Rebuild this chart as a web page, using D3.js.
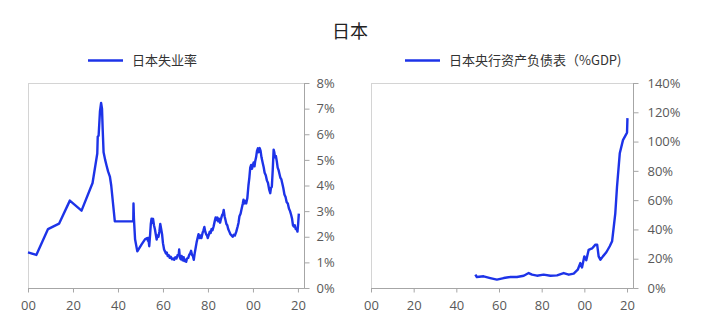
<!DOCTYPE html>
<html><head><meta charset="utf-8">
<script src="https://cdn.jsdelivr.net/npm/d3@7"></script>
<style>
body{margin:0;background:#fff;}
svg{display:block;}
</style></head>
<body>
<svg id="c" width="720" height="332"></svg>
<script>
const title = "日本";
const leftLabel = "日本失业率";
const rightLabel = "日本央行资产负债表（%GDP)";

const xTicks = [1900, 1920, 1940, 1960, 1980, 2000, 2020];
const leftYTicks = [0, 1, 2, 3, 4, 5, 6, 7, 8];
const rightYTicks = [0, 20, 40, 60, 80, 100, 120, 140];

const unempYears = [1900,1903.7,1908.9,1913.8,1918.6,1923.8,1928.7,1930.8,1931.0,1931.4,1932.0,1932.5,1932.9,1933.2,1933.6,1934.3,1935.0,1935.6,1936.4,1937.0,1938.6,1946.8,1946.9,1947.1,1947.6,1948.6,1950.5,1952.0,
1953.0,1953.3,1953.5,1953.9,1954.3,1954.6,1954.9,1955.3,1955.6,1956.0,1956.4,1956.8,1957.2,1957.6,1958.0,1958.4,1958.8,1959.2,1959.6,1960.0,1960.5,1960.9,1961.3,1961.7,1962.1,1962.6,1963.0,1963.5,1964.0,1964.6,1965.0,1965.5,1966.0,1966.5,1967.0,1967.2,1967.5,1967.9,1968.3,1968.7,1969.2,1969.5,1969.9,1970.3,1970.7,1971.2,1971.7,1972.1,1972.5,1972.9,1973.3,1973.7,1974.1,1974.6,1975.0,1975.4,1975.8,1976.3,1976.7,1977.1,1977.6,1978.0,1978.4,1978.8,1979.2,1979.6,1979.9,1980.3,1980.8,1981.2,1981.6,1982.0,1982.5,1983.0,1983.4,1983.8,1984.2,1984.6,1985.0,1985.4,1985.8,1986.3,1986.7,1987.0,1987.4,1987.8,1988.2,1988.6,1989.0,1989.5,1990.0,1990.5,1991.0,1991.5,1992.0,1992.6,1993.2,1993.6,1994.0,1994.5,1995.0,1995.5,1995.8,1996.2,1996.6,1997.0,1997.5,1998.0,1998.4,1998.8,1999.2,1999.6,2000.0,2000.3,2000.7,2001.0,2001.4,2001.8,2002.2,2002.6,2003.0,2003.4,2003.8,2004.3,2004.8,2005.2,2005.7,2006.2,2006.7,2007.2,2007.7,2008.0,2008.4,2008.8,2009.2,2009.5,2009.8,2010.2,2010.6,2011.0,2011.4,2011.8,2012.2,2012.6,2013.0,2013.5,2014.0,2014.5,2015.0,2015.5,2016.0,2016.5,2017.0,2017.4,2017.8,2018.2,2018.6,2019.0,2019.4,2019.8,2020.1,2020.4];
const unempValues = [1.39,1.29,2.30,2.51,3.41,3.02,4.10,5.25,5.90,5.95,6.9,7.22,7.0,6.2,5.3,5.0,4.75,4.55,4.35,4.0,2.60,2.60,3.30,2.7,1.9,1.43,1.7,1.9,
1.95,1.85,1.95,1.63,2.1,2.5,2.7,2.55,2.7,2.45,2.3,2.1,1.89,2.05,2.0,2.2,2.5,2.3,2.1,1.75,1.5,1.43,1.35,1.38,1.25,1.28,1.18,1.22,1.12,1.15,1.1,1.2,1.15,1.28,1.3,1.5,1.2,1.12,1.25,1.08,1.2,1.05,1.1,1.02,1.15,1.17,1.3,1.35,1.45,1.3,1.25,1.1,1.35,1.6,1.8,1.95,2.1,1.95,2.05,1.95,2.15,2.25,2.38,2.2,2.1,2.05,1.95,2.05,2.2,2.15,2.3,2.25,2.4,2.6,2.75,2.65,2.75,2.6,2.7,2.55,2.7,2.85,2.9,3.05,2.8,2.65,2.5,2.45,2.3,2.2,2.1,2.05,2.0,2.08,2.05,2.2,2.4,2.55,2.8,2.9,3.1,3.3,3.45,3.3,3.4,3.3,3.5,4.0,4.3,4.7,4.8,4.65,4.8,4.9,4.75,4.95,5.1,5.35,5.45,5.3,5.46,5.35,5.1,4.9,4.7,4.5,4.4,4.2,4.1,3.85,3.7,3.9,3.95,4.6,5.4,5.3,5.1,5.15,4.95,4.7,4.6,4.45,4.3,4.25,4.1,3.9,3.65,3.55,3.35,3.3,3.1,3.0,2.85,2.7,2.45,2.4,2.45,2.3,2.3,2.2,2.5,2.9];

const bsYears = [1948.9,1949.6,1952.8,1955.9,1959.0,1962.2,1965.3,1968.4,1971.6,1973.9,1975.5,1977.8,1980.9,1984.1,1987.2,1990.3,1992.7,1995.0,1996.9,1998.1,1998.9,2000.0,2000.9,2002.0,2003.6,2005.2,2006.0,2006.7,2007.5,2008.7,2010.3,2011.9,2013.0,2013.8,2014.5,2015.3,2016.6,2018.1,2019.5,2020.0,2020.2];
const bsValues = [9.1,7.5,8.0,6.8,5.7,6.8,7.5,7.5,8.4,10.2,9.1,8.4,9.1,8.4,8.6,10.2,9.1,9.8,12.5,17.0,14.0,21.6,19.0,26.0,27.0,29.6,29.6,21.6,19.3,21.6,24.4,28.5,31.9,42.0,51.0,69.0,92.0,101.0,104.7,106.0,116.0];

const blue = "#1d33e8";
const svg = d3.select("#c");
const cjk = "'Noto Sans CJK SC', 'Noto Sans', sans-serif";
const num = "'Open Sans', 'Noto Sans', sans-serif";

svg.append("text").attr("x", 350).attr("y", 38).attr("text-anchor", "middle")
  .attr("font-family", cjk).attr("font-size", 18).attr("fill", "#222").text(title);

function panel(cfg) {
  const x = d3.scaleLinear().domain(cfg.xDomain).range([cfg.left, cfg.right]);
  const y = d3.scaleLinear().domain(cfg.yDomain).range([cfg.bottom, cfg.top]);
  const g = svg.append("g");
  g.append("rect").attr("x", cfg.left + 0.5).attr("y", cfg.top + 0.5)
    .attr("width", cfg.right - cfg.left).attr("height", cfg.bottom - cfg.top)
    .attr("fill", "none").attr("stroke", "#d4d4d4").attr("stroke-width", 1);
  const xa = g.append("g").attr("transform", `translate(0,${cfg.bottom + 0.5})`)
    .call(d3.axisBottom(x).tickValues(xTicks).tickSize(4).tickPadding(8)
      .tickFormat(d => String(d % 100).padStart(2, "0")));
  xa.select(".domain").attr("stroke", "#a6a6a6").attr("d", `M${cfg.left},0H${cfg.right + 0.5}`);
  xa.selectAll("line").attr("stroke", "#a6a6a6");
  xa.selectAll("text").attr("font-family", num).attr("font-size", 13).attr("fill", "#595959");
  const ya = g.append("g").attr("transform", `translate(${cfg.right + 0.5},0)`)
    .call(d3.axisRight(y).tickValues(cfg.yTicks).tickSize(5).tickPadding(cfg.pad)
      .tickFormat(d => d + "%"));
  ya.select(".domain").attr("stroke", "#a6a6a6").attr("d", `M0,${cfg.top}V${cfg.bottom + 0.5}`);
  ya.selectAll("line").attr("stroke", "#a6a6a6");
  ya.selectAll("text").attr("font-family", num).attr("font-size", 13).attr("fill", "#595959");
  const pts = cfg.years.map((yr, i) => [yr, cfg.values[i]]);
  g.append("path").datum(pts)
    .attr("fill", "none").attr("stroke", blue).attr("stroke-width", 2.4)
    .attr("stroke-linejoin", "round")
    .attr("d", d3.line().x(d => x(d[0])).y(d => y(d[1])));
  g.append("line").attr("x1", cfg.legX).attr("x2", cfg.legX + 35)
    .attr("y1", 60.5).attr("y2", 60.5).attr("stroke", blue).attr("stroke-width", 2.5);
  g.append("text").attr("x", cfg.legX + 44).attr("y", 65)
    .attr("font-family", cjk).attr("font-size", 13).attr("fill", "#333").text(cfg.label);
}

panel({left: 28, right: 304, top: 83, bottom: 288, xDomain: [1900, 2022.7], yDomain: [0, 8],
  yTicks: leftYTicks, years: unempYears, values: unempValues, label: leftLabel, legX: 88, pad: 7});
panel({left: 371, right: 633, top: 83, bottom: 288, xDomain: [1900, 2022.8], yDomain: [0, 140],
  yTicks: rightYTicks, years: bsYears, values: bsValues, label: rightLabel, legX: 405, pad: 9});
</script>
</body></html>
